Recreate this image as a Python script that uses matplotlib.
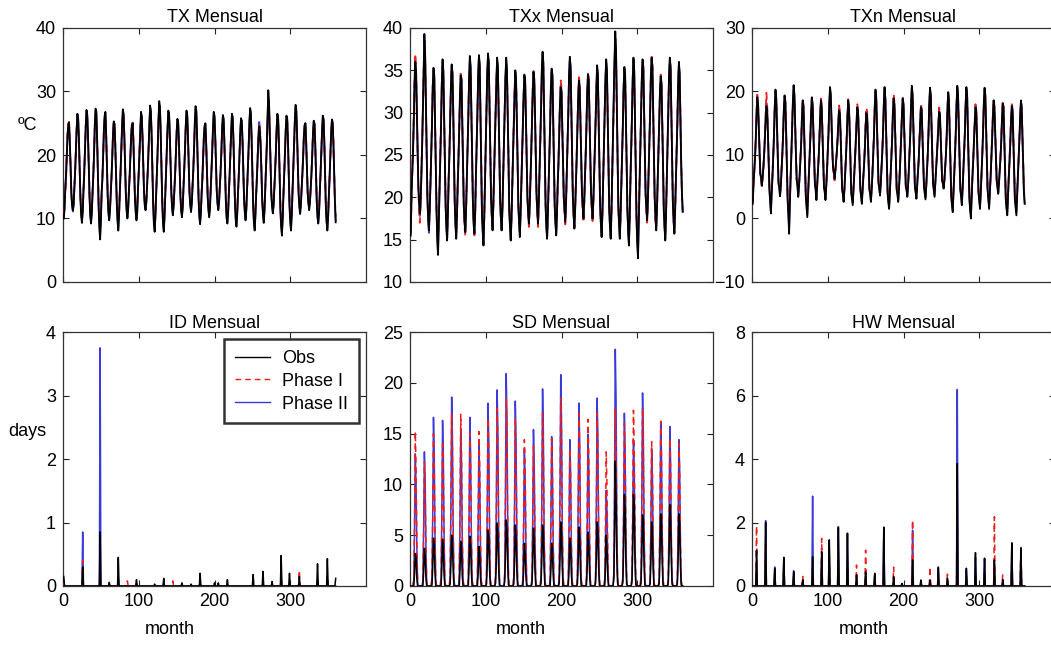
import numpy as np
import matplotlib
matplotlib.use("Agg")
import matplotlib.pyplot as plt

plt.rcParams['font.family'] = ['Liberation Sans', 'DejaVu Sans']

# ---------------- data (monthly values, 30 years x 12 months) ----------------
months = np.arange(1, 361)

TX_obs = [
 [10.0, 11.5, 14.5, 16.8, 20.0, 23.0, 24.6, 25.2, 22.0, 18.5, 14.0, 12.0],
 [11.3, 12.2, 14.8, 17.5, 20.5, 24.0, 26.5, 25.8, 22.5, 18.0, 13.2, 10.5],
 [9.3, 11.0, 14.2, 16.9, 21.0, 24.5, 27.1, 26.4, 23.0, 18.6, 13.5, 10.4],
 [9.2, 10.8, 13.9, 16.5, 20.3, 24.8, 27.3, 26.9, 22.8, 17.5, 12.0, 8.5],
 [6.7, 9.5, 14.0, 16.2, 19.8, 24.0, 26.2, 26.8, 23.2, 18.2, 13.5, 10.8],
 [9.7, 11.2, 13.8, 16.4, 19.5, 23.2, 25.3, 24.9, 21.6, 17.0, 12.4, 9.6],
 [8.1, 10.5, 14.1, 17.2, 20.8, 24.6, 27.2, 26.5, 22.9, 18.1, 13.7, 11.2],
 [10.0, 11.4, 14.3, 16.6, 19.7, 23.1, 24.6, 25.0, 21.8, 17.6, 13.1, 10.9],
 [9.7, 11.0, 14.6, 17.3, 20.6, 24.2, 26.8, 26.1, 22.7, 18.4, 14.0, 12.0],
 [11.3, 12.5, 15.0, 17.8, 21.2, 25.0, 27.8, 27.0, 23.1, 17.8, 12.2, 9.0],
 [7.9, 10.2, 13.8, 17.0, 21.0, 25.4, 28.5, 27.6, 23.5, 18.0, 12.5, 9.2],
 [7.9, 10.0, 13.6, 16.8, 20.4, 24.3, 27.0, 26.6, 23.2, 18.3, 14.1, 11.6],
 [10.5, 11.8, 14.4, 16.9, 20.0, 23.6, 25.7, 25.3, 22.1, 17.9, 13.4, 11.2],
 [10.2, 11.6, 14.7, 17.4, 20.7, 24.5, 27.0, 26.4, 22.9, 18.5, 14.0, 12.1],
 [11.0, 12.3, 15.0, 17.7, 21.0, 25.1, 27.7, 27.0, 23.0, 18.0, 12.9, 10.2],
 [9.1, 10.8, 13.9, 16.3, 19.4, 22.9, 24.6, 25.0, 21.9, 17.8, 13.4, 11.3],
 [10.2, 11.5, 14.5, 17.2, 20.6, 24.3, 26.8, 26.2, 22.8, 18.6, 14.2, 12.3],
 [11.3, 12.4, 14.9, 17.3, 20.3, 23.9, 26.3, 25.8, 22.2, 17.6, 12.6, 10.0],
 [9.2, 10.9, 14.1, 16.9, 20.3, 24.0, 26.5, 26.0, 22.4, 17.7, 12.5, 9.8],
 [8.7, 10.6, 13.9, 16.6, 19.9, 23.5, 25.8, 25.4, 22.3, 17.9, 13.2, 10.9],
 [9.7, 11.3, 14.5, 17.4, 21.0, 24.9, 27.4, 26.7, 22.6, 17.5, 12.1, 9.3],
 [8.1, 10.3, 13.8, 16.4, 19.6, 22.8, 24.5, 23.6, 21.0, 17.2, 12.8, 10.6],
 [9.3, 11.2, 14.6, 17.6, 21.5, 26.0, 30.2, 28.4, 23.4, 18.5, 13.8, 11.9],
 [10.8, 12.0, 14.7, 17.2, 20.4, 24.1, 26.5, 25.9, 22.0, 16.8, 11.2, 8.6],
 [7.3, 9.8, 13.6, 16.7, 20.2, 23.9, 26.2, 25.7, 22.1, 17.3, 12.0, 9.4],
 [8.1, 10.6, 14.3, 17.5, 21.2, 25.3, 27.9, 27.1, 23.3, 18.6, 14.0, 11.9],
 [10.7, 12.0, 14.6, 16.8, 19.6, 23.0, 24.6, 25.0, 22.1, 18.2, 14.0, 12.3],
 [11.3, 12.5, 14.8, 17.0, 19.9, 23.3, 25.4, 25.0, 21.7, 17.2, 12.5, 10.1],
 [9.2, 10.8, 14.0, 16.8, 20.2, 23.8, 26.2, 25.7, 22.0, 17.0, 11.8, 9.3],
 [8.1, 10.2, 13.7, 16.6, 20.0, 23.5, 25.6, 25.2, 21.8, 17.1, 12.4, 9.4],
]
TX_p1 = [
 [10.6, 11.8, 14.2, 16.5, 19.8, 23.2, 25.0, 24.8, 21.9, 18.2, 14.1, 12.2],
 [11.5, 12.3, 14.6, 17.2, 20.2, 23.6, 25.6, 25.3, 22.2, 18.0, 13.5, 11.2],
 [10.2, 11.5, 14.3, 16.9, 20.6, 24.1, 26.2, 25.9, 22.7, 18.4, 13.8, 11.0],
 [10.0, 11.2, 14.0, 16.6, 20.0, 24.2, 26.4, 26.1, 22.6, 17.8, 12.8, 10.0],
 [8.9, 10.4, 14.1, 16.4, 19.9, 23.6, 25.7, 26.0, 22.9, 18.3, 13.9, 11.5],
 [10.8, 11.9, 14.0, 16.5, 19.6, 23.0, 25.1, 24.6, 21.5, 17.2, 13.0, 11.0],
 [9.6, 11.0, 14.0, 17.0, 20.5, 24.0, 26.3, 25.9, 22.6, 18.1, 14.0, 12.0],
 [10.9, 12.0, 14.4, 16.7, 19.8, 23.1, 25.0, 25.4, 22.0, 17.8, 13.6, 11.8],
 [10.8, 11.8, 14.6, 17.1, 20.3, 23.8, 25.8, 25.5, 22.4, 18.3, 14.2, 12.6],
 [12.0, 13.0, 15.0, 17.5, 20.8, 24.3, 26.6, 26.2, 22.8, 17.9, 13.2, 10.6],
 [9.8, 11.2, 14.0, 16.9, 20.6, 24.6, 26.9, 26.5, 23.1, 18.1, 13.4, 10.8],
 [9.9, 11.2, 13.8, 16.7, 20.1, 23.7, 26.0, 25.8, 22.9, 18.4, 14.5, 12.4],
 [11.6, 12.4, 14.6, 16.9, 19.9, 23.3, 25.2, 24.6, 21.8, 17.9, 13.9, 12.1],
 [11.2, 12.2, 14.8, 17.3, 20.4, 23.9, 26.1, 25.7, 22.6, 18.4, 14.3, 12.6],
 [11.8, 12.8, 15.0, 17.5, 20.6, 24.3, 26.5, 26.1, 22.7, 18.0, 13.6, 11.3],
 [10.3, 11.6, 14.1, 16.4, 19.5, 22.9, 24.4, 24.2, 21.7, 17.9, 13.9, 12.2],
 [11.3, 12.2, 14.6, 17.1, 20.3, 23.8, 25.9, 25.6, 22.5, 18.5, 14.5, 12.8],
 [12.2, 13.0, 15.0, 17.2, 20.1, 23.5, 25.6, 25.2, 22.0, 17.7, 13.2, 11.1],
 [10.4, 11.6, 14.3, 16.8, 20.1, 23.6, 25.7, 25.5, 22.2, 17.8, 13.1, 10.9],
 [10.2, 11.5, 14.1, 16.6, 19.8, 23.2, 25.2, 25.1, 22.1, 17.9, 13.6, 11.8],
 [10.9, 12.0, 14.6, 17.2, 20.6, 24.2, 26.4, 26.0, 22.4, 17.6, 12.9, 10.6],
 [9.7, 11.2, 14.0, 16.5, 19.7, 23.2, 25.0, 24.7, 21.4, 17.4, 13.3, 11.5],
 [10.5, 11.8, 14.7, 17.4, 20.9, 24.9, 27.4, 26.8, 23.0, 18.3, 14.1, 12.4],
 [11.6, 12.5, 14.8, 17.1, 20.2, 23.7, 25.7, 25.3, 21.8, 17.0, 12.3, 10.2],
 [9.3, 10.8, 13.9, 16.6, 20.0, 23.5, 25.6, 25.3, 22.0, 17.4, 12.8, 10.6],
 [9.8, 11.3, 14.4, 17.2, 20.7, 24.4, 26.6, 26.2, 22.9, 18.4, 14.2, 12.5],
 [11.7, 12.6, 14.8, 16.9, 19.7, 23.0, 24.7, 25.1, 22.2, 18.3, 14.3, 12.7],
 [12.0, 12.9, 14.9, 17.0, 19.9, 23.2, 25.1, 24.8, 21.6, 17.3, 13.1, 11.2],
 [10.4, 11.5, 14.1, 16.7, 20.0, 23.4, 25.6, 25.3, 21.9, 17.2, 12.6, 10.5],
 [9.6, 11.0, 13.8, 16.5, 19.8, 23.2, 25.1, 24.9, 21.7, 17.2, 12.9, 10.3],
]
TX_p2 = [
 [10.2, 11.6, 14.6, 16.9, 20.1, 23.3, 24.9, 25.0, 22.1, 18.4, 14.2, 12.1],
 [11.1, 12.0, 14.7, 17.4, 20.6, 24.2, 26.2, 25.6, 22.6, 18.1, 13.4, 10.8],
 [9.6, 11.2, 14.3, 17.0, 20.8, 24.4, 26.8, 26.2, 22.9, 18.5, 13.7, 10.6],
 [9.5, 11.0, 14.0, 16.6, 20.2, 24.6, 27.0, 26.6, 22.7, 17.6, 12.3, 9.0],
 [7.4, 9.9, 14.1, 16.3, 19.9, 23.8, 26.0, 26.5, 23.0, 18.2, 13.6, 11.0],
 [9.9, 11.3, 13.9, 16.5, 19.6, 23.3, 25.1, 24.8, 21.7, 17.1, 12.6, 9.9],
 [8.5, 10.7, 14.2, 17.1, 20.7, 24.4, 26.9, 26.3, 22.8, 18.2, 13.8, 11.4],
 [10.2, 11.5, 14.3, 16.7, 19.8, 23.2, 24.8, 25.1, 21.9, 17.7, 13.3, 11.1],
 [10.0, 11.2, 14.6, 17.2, 20.5, 24.0, 26.5, 25.9, 22.6, 18.4, 14.1, 12.1],
 [11.4, 12.6, 15.0, 17.7, 21.0, 24.8, 27.4, 26.8, 23.0, 17.9, 12.5, 9.5],
 [8.4, 10.5, 13.9, 17.0, 20.8, 25.1, 28.0, 27.2, 23.3, 18.0, 12.8, 9.6],
 [8.3, 10.3, 13.7, 16.8, 20.3, 24.1, 26.7, 26.4, 23.1, 18.3, 14.2, 11.8],
 [10.8, 12.0, 14.5, 16.9, 20.0, 23.5, 25.5, 25.0, 22.0, 17.9, 13.6, 11.4],
 [10.5, 11.8, 14.7, 17.4, 20.6, 24.3, 26.7, 26.2, 22.8, 18.5, 14.1, 12.2],
 [11.2, 12.4, 15.0, 17.6, 20.9, 24.9, 27.3, 26.8, 22.9, 18.0, 13.1, 10.5],
 [9.5, 11.0, 14.0, 16.3, 19.4, 22.9, 24.6, 24.8, 21.8, 17.8, 13.6, 11.5],
 [10.5, 11.7, 14.5, 17.2, 20.5, 24.1, 26.5, 26.0, 22.7, 18.6, 14.3, 12.4],
 [11.5, 12.5, 14.9, 17.3, 20.2, 23.8, 26.0, 25.6, 22.1, 17.6, 12.8, 10.3],
 [9.5, 11.0, 14.2, 16.9, 20.2, 23.9, 26.2, 25.8, 22.3, 17.7, 12.7, 10.1],
 [9.1, 10.8, 14.0, 16.6, 19.9, 23.4, 25.6, 25.3, 22.2, 17.9, 13.3, 11.2],
 [10.0, 11.5, 14.5, 17.4, 20.9, 24.7, 27.1, 26.5, 22.5, 17.5, 12.3, 9.7],
 [8.6, 10.6, 13.9, 16.4, 19.7, 23.0, 25.2, 24.3, 21.1, 17.3, 12.9, 10.8],
 [9.6, 11.3, 14.6, 17.5, 21.3, 25.6, 29.0, 27.8, 23.3, 18.5, 13.9, 12.0],
 [11.0, 12.1, 14.7, 17.2, 20.3, 24.0, 26.3, 25.7, 21.9, 16.9, 11.6, 9.1],
 [7.8, 10.1, 13.7, 16.7, 20.1, 23.8, 26.0, 25.5, 22.1, 17.3, 12.3, 9.8],
 [8.5, 10.8, 14.3, 17.4, 21.0, 25.0, 27.5, 26.8, 23.2, 18.5, 14.0, 12.0],
 [11.0, 12.2, 14.6, 16.8, 19.6, 23.0, 24.7, 25.0, 22.1, 18.2, 14.1, 12.5],
 [11.8, 12.7, 14.8, 17.0, 19.9, 23.3, 25.3, 24.9, 21.7, 17.2, 12.7, 10.4],
 [9.5, 11.0, 14.0, 16.8, 20.1, 23.7, 26.0, 25.5, 22.0, 17.1, 12.1, 9.6],
 [8.5, 10.4, 13.7, 16.6, 20.0, 23.4, 25.4, 25.0, 21.8, 17.1, 12.6, 9.7],
]

TXx_obs = [
 [15.5, 20.5, 23.0, 25.5, 29.0, 33.5, 36.0, 35.0, 30.5, 26.0, 21.5, 19.5],
 [18.1, 19.5, 22.5, 26.0, 30.5, 35.5, 39.3, 37.0, 31.0, 25.5, 20.0, 17.5],
 [16.1, 18.5, 21.5, 25.0, 28.5, 33.0, 35.3, 34.5, 29.5, 24.0, 18.5, 15.0],
 [13.2, 17.0, 21.0, 24.5, 28.5, 33.5, 36.3, 35.0, 30.0, 24.5, 19.0, 16.5],
 [14.9, 18.0, 22.0, 25.0, 29.0, 33.0, 35.7, 34.8, 30.5, 25.0, 19.5, 16.8],
 [15.1, 17.8, 21.5, 24.5, 28.0, 32.0, 34.4, 33.8, 29.0, 24.0, 19.0, 17.2],
 [15.9, 18.5, 22.0, 25.5, 29.5, 34.0, 36.7, 35.5, 30.5, 25.0, 19.5, 17.0],
 [15.7, 18.0, 22.5, 26.0, 30.0, 34.5, 36.8, 35.8, 30.0, 24.0, 18.0, 16.0],
 [14.3, 17.5, 22.0, 26.0, 30.5, 34.8, 37.0, 36.0, 31.0, 25.5, 20.0, 17.8],
 [16.1, 19.0, 23.0, 26.5, 30.0, 34.0, 36.5, 35.5, 30.5, 25.0, 19.5, 17.5],
 [16.1, 18.5, 22.5, 26.0, 30.0, 34.2, 36.5, 35.0, 30.0, 24.5, 18.5, 16.5],
 [14.9, 17.5, 21.5, 25.0, 28.5, 32.5, 35.0, 34.0, 29.5, 24.5, 19.0, 17.0],
 [15.3, 18.0, 21.5, 24.5, 28.0, 32.0, 34.5, 33.8, 29.5, 24.5, 20.0, 18.2],
 [16.9, 19.0, 22.0, 25.0, 28.5, 32.5, 34.8, 34.0, 30.0, 25.0, 20.5, 18.5],
 [16.9, 19.5, 23.0, 26.5, 30.5, 35.0, 37.2, 36.0, 30.5, 24.5, 19.0, 16.5],
 [15.1, 18.0, 21.5, 25.0, 28.5, 33.0, 35.2, 34.5, 29.5, 24.0, 19.0, 17.0],
 [15.5, 18.0, 21.5, 24.0, 27.5, 31.0, 33.0, 32.5, 28.5, 24.5, 20.0, 18.5],
 [17.1, 19.5, 23.0, 26.5, 30.0, 34.5, 36.6, 35.5, 30.5, 25.0, 20.0, 17.8],
 [16.3, 18.5, 21.5, 24.5, 28.0, 31.5, 33.8, 33.0, 29.0, 25.0, 20.5, 19.0],
 [17.5, 19.5, 22.5, 25.0, 28.5, 32.5, 34.5, 33.8, 29.5, 25.0, 20.5, 19.0],
 [17.5, 19.5, 22.5, 25.5, 29.0, 33.0, 35.6, 34.5, 29.5, 24.0, 19.0, 16.8],
 [15.3, 18.0, 22.0, 25.5, 29.5, 34.0, 36.3, 35.0, 29.5, 24.0, 18.5, 16.5],
 [15.1, 18.5, 23.0, 27.0, 31.5, 36.5, 39.6, 37.5, 31.0, 25.0, 19.0, 16.8],
 [15.1, 18.0, 21.5, 25.0, 28.5, 33.0, 35.4, 34.5, 29.5, 24.0, 18.5, 16.0],
 [14.3, 17.5, 22.0, 25.5, 29.5, 34.0, 36.5, 35.0, 29.5, 23.5, 17.5, 14.5],
 [12.8, 17.0, 21.5, 25.5, 29.5, 34.0, 36.3, 35.5, 30.5, 25.5, 20.5, 18.8],
 [17.3, 19.5, 23.0, 26.5, 30.0, 34.5, 36.5, 35.5, 30.5, 25.0, 20.0, 17.8],
 [16.1, 18.5, 22.0, 25.0, 28.5, 32.5, 34.3, 33.5, 29.0, 24.0, 18.5, 16.5],
 [14.9, 18.0, 22.0, 26.0, 30.0, 34.5, 36.5, 35.5, 30.0, 24.5, 19.5, 17.2],
 [15.7, 18.5, 22.0, 25.5, 29.0, 33.5, 36.0, 34.5, 29.0, 24.0, 20.5, 18.3],
]
TXx_p1 = [
 [16.5, 20.0, 23.0, 25.8, 29.5, 34.0, 37.0, 35.5, 30.0, 25.5, 21.0, 18.5],
 [17.0, 19.0, 22.5, 26.0, 30.0, 34.5, 37.5, 36.0, 30.5, 25.0, 20.0, 17.8],
 [16.5, 18.8, 21.8, 25.0, 28.8, 33.0, 35.0, 34.2, 29.5, 24.2, 19.0, 16.0],
 [14.5, 17.5, 21.3, 24.8, 28.8, 33.2, 35.5, 34.8, 30.0, 24.8, 19.5, 17.0],
 [15.5, 18.2, 22.0, 25.2, 29.0, 33.0, 35.3, 34.5, 30.2, 25.0, 20.0, 17.3],
 [15.8, 18.2, 21.8, 24.8, 28.3, 32.2, 34.8, 34.0, 29.2, 24.2, 19.3, 16.5],
 [15.5, 18.3, 22.0, 25.5, 29.3, 33.5, 35.8, 35.0, 30.3, 25.0, 19.8, 16.8],
 [15.3, 17.8, 22.3, 25.8, 29.8, 34.0, 36.0, 35.3, 30.0, 24.3, 18.5, 16.2],
 [15.0, 17.8, 22.0, 25.8, 30.0, 34.2, 36.3, 35.5, 30.8, 25.5, 20.2, 17.8],
 [16.5, 19.0, 22.8, 26.2, 29.8, 33.8, 35.8, 35.0, 30.3, 25.0, 19.8, 17.5],
 [16.3, 18.5, 22.3, 25.8, 29.8, 33.8, 35.8, 34.8, 30.0, 24.8, 19.0, 17.0],
 [15.5, 17.8, 21.5, 25.0, 28.5, 32.5, 34.5, 33.8, 29.5, 24.5, 19.5, 17.5],
 [16.0, 18.3, 21.5, 24.5, 28.0, 32.0, 34.2, 33.5, 29.5, 24.8, 20.3, 18.0],
 [16.5, 18.8, 22.0, 25.0, 28.5, 32.5, 35.2, 34.0, 29.8, 25.0, 20.3, 18.0],
 [16.5, 19.2, 22.8, 26.2, 30.0, 34.2, 36.3, 35.3, 30.3, 24.8, 19.5, 17.0],
 [15.5, 18.0, 21.5, 24.8, 28.5, 32.8, 34.8, 34.2, 29.5, 24.2, 19.3, 17.2],
 [16.0, 18.2, 21.5, 24.2, 27.8, 31.5, 33.8, 33.0, 28.8, 24.5, 20.0, 18.3],
 [16.8, 19.2, 22.8, 26.2, 29.8, 34.0, 36.0, 35.0, 30.3, 25.0, 20.0, 18.0],
 [16.5, 18.7, 21.8, 24.8, 28.3, 31.8, 34.2, 33.5, 29.2, 25.0, 20.5, 18.5],
 [17.0, 19.2, 22.3, 25.0, 28.5, 32.3, 34.8, 33.8, 29.5, 24.8, 20.2, 18.5],
 [17.2, 19.3, 22.5, 25.5, 29.0, 33.0, 35.3, 34.3, 29.5, 24.2, 19.3, 17.0],
 [15.8, 18.2, 22.0, 25.3, 29.3, 33.5, 35.5, 34.5, 29.5, 24.2, 19.0, 16.8],
 [15.5, 18.5, 22.5, 26.3, 30.5, 35.0, 37.0, 36.0, 30.5, 24.8, 19.3, 16.8],
 [15.5, 18.0, 21.5, 25.0, 28.5, 32.8, 35.0, 34.2, 29.5, 24.2, 18.8, 16.3],
 [15.0, 17.8, 22.0, 25.3, 29.3, 33.5, 35.5, 34.5, 29.5, 24.0, 18.3, 16.0],
 [17.3, 18.5, 21.8, 25.5, 29.3, 33.5, 35.8, 35.0, 30.3, 25.5, 20.5, 18.5],
 [17.0, 19.3, 22.8, 26.3, 30.0, 34.3, 36.6, 35.5, 30.3, 25.0, 19.8, 17.3],
 [16.3, 18.5, 22.0, 25.0, 28.5, 32.3, 34.5, 33.5, 29.0, 24.2, 19.0, 16.8],
 [15.5, 18.2, 22.0, 25.8, 29.8, 34.0, 35.8, 35.0, 30.0, 24.5, 19.5, 17.3],
 [16.0, 18.5, 22.0, 25.5, 29.0, 33.3, 35.5, 34.3, 29.2, 24.2, 20.3, 18.5],
]
TXx_p2 = [
 [15.8, 20.3, 23.0, 25.6, 29.2, 33.6, 35.8, 34.8, 30.3, 25.8, 21.2, 19.2],
 [17.8, 19.3, 22.5, 26.0, 30.3, 35.0, 38.5, 36.5, 30.8, 25.3, 19.8, 17.2],
 [15.8, 18.3, 21.5, 25.0, 28.6, 33.0, 35.0, 34.3, 29.4, 24.0, 18.6, 15.3],
 [13.5, 17.2, 21.1, 24.6, 28.6, 33.4, 36.0, 34.8, 30.0, 24.6, 19.2, 16.6],
 [15.0, 18.0, 22.0, 25.0, 29.0, 33.0, 35.5, 34.7, 30.4, 25.0, 19.6, 16.9],
 [15.2, 17.9, 21.6, 24.6, 28.1, 32.1, 34.5, 33.9, 29.1, 24.1, 19.1, 17.0],
 [15.8, 18.4, 22.0, 25.5, 29.4, 33.8, 36.3, 35.3, 30.4, 25.0, 19.6, 16.9],
 [15.6, 18.0, 22.4, 25.9, 29.9, 34.3, 36.5, 35.6, 30.0, 24.1, 18.2, 16.0],
 [14.5, 17.6, 22.0, 25.9, 30.3, 34.6, 36.7, 35.8, 30.9, 25.5, 20.1, 17.8],
 [16.2, 19.0, 22.9, 26.4, 30.0, 34.0, 36.2, 35.3, 30.4, 25.0, 19.6, 17.5],
 [16.1, 18.5, 22.4, 26.0, 30.0, 34.1, 36.2, 34.9, 30.0, 24.6, 18.7, 16.6],
 [15.0, 17.6, 21.5, 25.0, 28.5, 32.5, 34.8, 33.9, 29.5, 24.5, 19.1, 17.1],
 [15.5, 18.1, 21.5, 24.5, 28.0, 32.0, 34.4, 33.7, 29.5, 24.6, 20.1, 18.1],
 [16.7, 18.9, 22.0, 25.0, 28.5, 32.5, 34.9, 34.0, 29.9, 25.0, 20.4, 18.4],
 [16.8, 19.4, 22.9, 26.4, 30.3, 34.7, 36.9, 35.8, 30.4, 24.6, 19.1, 16.7],
 [15.2, 18.0, 21.5, 25.0, 28.5, 32.9, 35.0, 34.4, 29.5, 24.1, 19.1, 17.1],
 [15.6, 18.1, 21.5, 24.1, 27.6, 31.2, 33.3, 32.7, 28.6, 24.5, 20.0, 18.4],
 [17.0, 19.4, 22.9, 26.4, 30.0, 34.3, 36.3, 35.3, 30.4, 25.0, 20.0, 17.9],
 [16.4, 18.6, 21.6, 24.6, 28.1, 31.6, 33.9, 33.1, 29.1, 25.0, 20.5, 18.8],
 [17.4, 19.4, 22.4, 25.0, 28.5, 32.4, 34.6, 33.8, 29.5, 24.9, 20.4, 18.9],
 [17.4, 19.4, 22.5, 25.5, 29.0, 33.0, 35.5, 34.4, 29.5, 24.1, 19.1, 16.9],
 [15.4, 18.1, 22.0, 25.4, 29.4, 33.8, 36.0, 34.8, 29.5, 24.1, 18.7, 16.6],
 [15.2, 18.5, 22.8, 26.7, 31.1, 35.9, 38.8, 37.0, 30.8, 24.9, 19.1, 16.8],
 [15.2, 18.0, 21.5, 25.0, 28.5, 32.9, 35.2, 34.4, 29.5, 24.1, 18.6, 16.1],
 [14.5, 17.6, 22.0, 25.4, 29.4, 33.8, 36.2, 34.8, 29.5, 23.7, 17.7, 14.9],
 [13.3, 17.2, 21.6, 25.5, 29.4, 33.8, 36.0, 35.3, 30.4, 25.5, 20.5, 18.7],
 [17.2, 19.4, 22.9, 26.4, 30.0, 34.4, 36.3, 35.5, 30.4, 25.0, 20.0, 17.7],
 [16.2, 18.5, 22.0, 25.0, 28.5, 32.4, 34.3, 33.5, 29.0, 24.1, 18.7, 16.6],
 [15.1, 18.1, 22.0, 25.9, 29.9, 34.3, 36.2, 35.3, 30.0, 24.5, 19.5, 17.2],
 [15.8, 18.5, 22.0, 25.5, 29.0, 33.4, 35.8, 34.5, 29.1, 24.1, 20.4, 18.3],
]

TXn_obs = [
 [2.3, 5.5, 7.5, 9.5, 12.5, 16.5, 19.1, 18.0, 14.0, 10.5, 7.0, 6.5],
 [5.2, 6.5, 8.0, 10.0, 12.5, 15.5, 17.7, 17.0, 13.5, 9.0, 4.5, 2.5],
 [0.8, 4.0, 6.5, 9.5, 13.0, 17.5, 20.3, 19.0, 14.5, 9.5, 5.5, 4.8],
 [3.5, 5.0, 7.5, 10.0, 13.0, 17.0, 19.4, 18.5, 14.0, 8.5, 3.0, 0.5],
 [-2.4, 2.5, 6.5, 10.0, 14.0, 18.5, 21.0, 19.5, 14.5, 10.0, 6.0, 5.2],
 [3.4, 5.0, 7.0, 9.5, 12.0, 16.0, 18.6, 17.5, 13.0, 8.0, 3.5, 1.8],
 [0.2, 3.5, 6.5, 9.5, 12.5, 16.5, 19.1, 18.0, 14.0, 9.5, 5.5, 4.5],
 [2.9, 5.0, 7.0, 9.5, 12.5, 16.0, 18.6, 17.5, 13.5, 9.0, 5.0, 4.2],
 [2.9, 5.0, 7.5, 10.5, 13.5, 18.0, 20.7, 19.5, 15.0, 11.0, 8.0, 7.5],
 [6.3, 7.5, 9.0, 10.5, 12.5, 15.0, 17.0, 16.5, 13.0, 8.5, 4.5, 3.8],
 [2.6, 4.5, 7.0, 9.5, 12.5, 16.0, 18.6, 17.5, 13.5, 8.5, 4.0, 3.0],
 [2.1, 4.5, 7.0, 9.0, 12.0, 15.0, 17.5, 16.8, 13.0, 8.5, 4.5, 3.5],
 [2.3, 4.5, 6.5, 8.5, 11.0, 14.5, 16.6, 16.0, 12.5, 8.5, 4.5, 3.8],
 [2.6, 4.5, 7.0, 10.0, 13.0, 17.5, 20.3, 19.0, 14.5, 10.0, 5.5, 4.8],
 [3.6, 5.5, 8.0, 10.5, 13.5, 18.0, 20.7, 19.0, 14.0, 9.0, 4.0, 2.5],
 [1.5, 4.0, 7.0, 9.5, 12.5, 16.5, 18.9, 18.0, 13.5, 9.0, 4.5, 3.8],
 [2.6, 4.5, 7.0, 10.0, 13.0, 16.5, 18.9, 18.0, 14.0, 9.5, 5.0, 4.5],
 [3.4, 5.0, 7.5, 10.5, 13.5, 18.0, 20.9, 19.5, 14.5, 9.5, 5.0, 4.2],
 [3.1, 5.0, 7.0, 9.0, 12.0, 15.0, 17.5, 17.0, 13.0, 9.0, 5.0, 4.0],
 [3.0, 5.0, 7.5, 10.0, 13.5, 18.0, 20.6, 19.5, 14.5, 10.0, 5.5, 4.5],
 [3.4, 5.5, 7.5, 9.5, 12.0, 14.5, 16.8, 16.5, 13.0, 9.5, 6.0, 5.5],
 [4.7, 6.0, 8.0, 10.0, 13.0, 17.0, 19.9, 18.5, 13.5, 8.5, 3.5, 2.0],
 [1.0, 4.0, 7.0, 10.0, 13.5, 18.0, 20.9, 19.5, 14.5, 9.5, 4.5, 3.5],
 [2.1, 4.5, 7.5, 10.5, 13.5, 18.0, 20.7, 19.5, 14.0, 8.5, 3.0, 1.2],
 [0.0, 3.5, 6.5, 9.0, 12.0, 15.0, 17.5, 17.0, 13.0, 8.5, 4.0, 2.8],
 [1.5, 4.0, 7.0, 10.0, 13.5, 18.0, 20.6, 19.5, 14.5, 9.5, 4.5, 3.0],
 [1.5, 4.0, 6.5, 9.5, 12.5, 16.0, 18.6, 17.5, 13.5, 9.5, 6.0, 5.0],
 [3.9, 5.5, 7.5, 9.5, 12.0, 15.5, 18.1, 17.5, 13.0, 8.0, 3.0, 1.5],
 [0.5, 3.5, 6.5, 9.0, 12.0, 15.5, 17.7, 17.0, 12.5, 7.5, 3.0, 1.8],
 [0.5, 3.5, 6.5, 9.5, 12.5, 16.0, 18.6, 17.5, 13.0, 8.0, 4.0, 2.3],
]
TXn_p1 = [
 [3.0, 5.5, 7.5, 9.8, 12.8, 16.8, 19.5, 18.3, 14.2, 10.3, 6.8, 6.0],
 [5.0, 6.3, 8.0, 10.2, 13.0, 16.5, 19.8, 18.0, 13.8, 9.2, 5.0, 3.5],
 [2.0, 4.5, 6.8, 9.8, 13.0, 17.3, 20.0, 18.8, 14.3, 9.8, 6.0, 5.0],
 [3.8, 5.3, 7.5, 10.0, 13.0, 16.8, 19.0, 18.3, 14.0, 9.0, 4.0, 2.0],
 [0.5, 3.5, 6.8, 10.0, 13.8, 18.0, 20.2, 19.0, 14.5, 10.0, 6.2, 5.5],
 [3.8, 5.2, 7.2, 9.8, 12.5, 16.3, 18.8, 17.8, 13.3, 8.5, 4.3, 3.0],
 [1.5, 4.0, 6.8, 9.8, 12.8, 16.5, 19.0, 18.0, 14.0, 9.8, 6.0, 5.0],
 [3.3, 5.2, 7.2, 9.8, 12.8, 16.3, 18.9, 17.8, 13.8, 9.3, 5.5, 4.5],
 [3.5, 5.3, 7.5, 10.3, 13.3, 17.5, 20.0, 19.0, 14.8, 10.8, 7.5, 7.0],
 [6.0, 7.2, 8.8, 10.5, 12.8, 15.5, 17.8, 17.0, 13.3, 9.0, 5.0, 4.0],
 [3.0, 4.8, 7.2, 9.8, 12.8, 16.2, 18.8, 17.8, 13.8, 9.0, 4.8, 3.8],
 [3.0, 5.0, 7.2, 9.3, 12.3, 15.5, 18.0, 17.2, 13.3, 9.0, 5.0, 4.0],
 [3.0, 4.8, 6.8, 8.8, 11.5, 15.0, 17.5, 16.8, 13.0, 9.0, 5.0, 4.2],
 [3.2, 5.0, 7.3, 10.0, 13.0, 17.0, 19.8, 18.8, 14.5, 10.0, 6.0, 5.0],
 [4.0, 5.8, 8.0, 10.5, 13.3, 17.5, 20.0, 18.8, 14.0, 9.3, 4.8, 3.5],
 [2.5, 4.5, 7.2, 9.8, 12.8, 16.8, 19.7, 18.3, 13.8, 9.3, 5.0, 4.2],
 [3.0, 4.8, 7.2, 10.0, 13.0, 16.5, 19.0, 18.0, 14.0, 9.8, 5.5, 4.8],
 [3.8, 5.3, 7.8, 10.5, 13.5, 17.5, 20.2, 19.0, 14.3, 9.8, 5.5, 4.5],
 [3.5, 5.2, 7.3, 9.3, 12.3, 15.5, 18.0, 17.3, 13.3, 9.3, 5.5, 4.5],
 [3.5, 5.3, 7.7, 10.0, 13.3, 17.5, 20.0, 19.0, 14.3, 10.0, 6.0, 5.0],
 [4.0, 5.8, 7.8, 9.8, 12.3, 15.0, 17.5, 17.0, 13.3, 9.8, 6.3, 5.5],
 [5.0, 6.2, 8.0, 10.0, 13.0, 17.0, 19.8, 18.5, 13.8, 9.0, 4.3, 3.0],
 [2.0, 4.5, 7.2, 10.0, 13.3, 17.5, 20.3, 19.0, 14.3, 9.8, 5.0, 4.0],
 [2.8, 4.8, 7.5, 10.3, 13.3, 17.5, 20.0, 19.0, 14.0, 9.0, 4.0, 2.5],
 [1.5, 4.0, 6.8, 9.3, 12.3, 15.5, 18.0, 17.3, 13.3, 9.0, 4.8, 3.5],
 [2.5, 4.5, 7.2, 10.0, 13.3, 17.5, 20.0, 19.0, 14.3, 9.8, 5.0, 3.8],
 [2.5, 4.5, 6.8, 9.8, 12.8, 16.3, 18.8, 17.8, 13.8, 9.8, 6.2, 5.2],
 [4.0, 5.5, 7.5, 9.8, 12.3, 15.8, 18.5, 17.8, 13.3, 8.5, 4.0, 2.5],
 [1.8, 4.0, 6.8, 9.3, 12.3, 15.8, 18.0, 17.3, 13.0, 8.3, 4.0, 2.8],
 [1.5, 4.0, 6.8, 9.5, 12.5, 16.0, 18.5, 17.5, 13.3, 8.5, 4.5, 3.0],
]
TXn_p2 = [
 [2.6, 5.5, 7.5, 9.6, 12.6, 16.6, 19.0, 18.0, 14.0, 10.4, 7.0, 6.3],
 [5.1, 6.4, 8.0, 10.1, 12.7, 15.8, 18.2, 17.3, 13.6, 9.1, 4.7, 2.8],
 [1.2, 4.2, 6.6, 9.6, 13.0, 17.4, 20.0, 18.9, 14.4, 9.6, 5.7, 4.9],
 [3.6, 5.1, 7.5, 10.0, 13.0, 16.9, 19.2, 18.4, 14.0, 8.7, 3.4, 1.0],
 [-1.5, 2.8, 6.6, 10.0, 13.9, 18.3, 20.9, 19.3, 14.5, 10.0, 6.1, 5.3],
 [3.5, 5.1, 7.1, 9.6, 12.2, 16.1, 18.6, 17.6, 13.1, 8.2, 3.8, 2.2],
 [0.6, 3.7, 6.6, 9.6, 12.6, 16.5, 19.0, 18.0, 14.0, 9.6, 5.7, 4.7],
 [3.0, 5.1, 7.1, 9.6, 12.6, 16.1, 18.6, 17.6, 13.6, 9.1, 5.2, 4.3],
 [3.1, 5.1, 7.5, 10.4, 13.4, 17.8, 20.5, 19.3, 14.9, 10.9, 7.8, 7.3],
 [6.1, 7.4, 8.9, 10.5, 12.6, 15.2, 17.3, 16.7, 13.1, 8.7, 4.7, 3.9],
 [2.8, 4.6, 7.1, 9.6, 12.6, 16.1, 18.6, 17.6, 13.6, 8.7, 4.3, 3.3],
 [2.5, 4.7, 7.1, 9.1, 12.1, 15.2, 17.6, 16.9, 13.1, 8.7, 4.7, 3.7],
 [2.6, 4.6, 6.6, 8.6, 11.2, 14.7, 16.9, 16.3, 12.7, 8.7, 4.7, 4.0],
 [2.8, 4.7, 7.1, 10.0, 13.0, 17.3, 20.0, 18.9, 14.5, 10.0, 5.7, 4.9],
 [3.7, 5.6, 8.0, 10.5, 13.4, 17.8, 20.4, 18.9, 14.0, 9.1, 4.3, 2.8],
 [1.9, 4.2, 7.1, 9.6, 12.6, 16.6, 18.9, 18.0, 13.6, 9.1, 4.7, 4.0],
 [2.8, 4.6, 7.1, 10.0, 13.0, 16.5, 18.9, 18.0, 14.0, 9.6, 5.2, 4.6],
 [3.5, 5.1, 7.6, 10.5, 13.5, 17.8, 20.6, 19.3, 14.4, 9.6, 5.2, 4.3],
 [3.2, 5.1, 7.1, 9.1, 12.1, 15.2, 17.7, 17.1, 13.1, 9.1, 5.2, 4.2],
 [3.2, 5.1, 7.6, 10.0, 13.4, 17.8, 20.3, 19.3, 14.4, 10.0, 5.7, 4.7],
 [3.6, 5.6, 7.6, 9.6, 12.1, 14.7, 17.0, 16.7, 13.1, 9.6, 6.1, 5.5],
 [4.8, 6.1, 8.0, 10.0, 13.0, 17.0, 19.8, 18.5, 13.6, 8.7, 3.8, 2.4],
 [1.4, 4.2, 7.1, 10.0, 13.4, 17.8, 20.6, 19.3, 14.4, 9.6, 4.7, 3.7],
 [2.4, 4.6, 7.5, 10.4, 13.4, 17.8, 20.4, 19.3, 14.0, 8.7, 3.4, 1.7],
 [0.6, 3.7, 6.6, 9.1, 12.1, 15.2, 17.7, 17.1, 13.1, 8.7, 4.3, 3.1],
 [1.9, 4.2, 7.1, 10.0, 13.4, 17.8, 20.3, 19.3, 14.4, 9.6, 4.7, 3.3],
 [1.9, 4.2, 6.6, 9.6, 12.6, 16.1, 18.6, 17.6, 13.6, 9.6, 6.1, 5.1],
 [3.9, 5.5, 7.5, 9.6, 12.1, 15.6, 18.2, 17.6, 13.1, 8.2, 3.4, 1.9],
 [1.0, 3.7, 6.6, 9.1, 12.1, 15.6, 17.8, 17.1, 12.7, 7.8, 3.4, 2.2],
 [0.9, 3.7, 6.6, 9.6, 12.6, 16.0, 18.5, 17.5, 13.1, 8.2, 4.2, 2.4],
]

# SD: summer days, non-zero only in May-Oct (other months 0)
SD_MONTHS = [5, 6, 7, 8, 9, 10]
SD_obs = [
 [0.0, 1.2, 3.2, 2.8, 0.8, 0.0], [0.0, 1.4, 3.7, 3.0, 0.9, 0.0],
 [0.1, 1.8, 4.7, 3.9, 1.3, 0.0], [0.0, 1.7, 4.6, 3.5, 1.1, 0.0],
 [0.2, 2.1, 5.0, 4.2, 1.5, 0.0], [0.0, 1.6, 4.4, 3.6, 1.0, 0.0],
 [0.1, 2.0, 4.9, 4.0, 1.4, 0.0], [0.0, 1.3, 3.9, 3.1, 0.9, 0.0],
 [0.2, 2.3, 5.5, 4.6, 1.7, 0.1], [0.3, 2.6, 6.2, 5.0, 1.9, 0.1],
 [0.4, 2.9, 6.5, 5.6, 2.1, 0.1], [0.2, 2.4, 6.0, 4.8, 1.6, 0.0],
 [0.0, 1.5, 4.2, 3.3, 1.0, 0.0], [0.2, 2.2, 5.7, 4.5, 1.6, 0.0],
 [0.3, 2.5, 6.0, 5.2, 1.8, 0.1], [0.0, 1.6, 4.2, 3.4, 1.1, 0.0],
 [0.3, 2.6, 6.3, 5.1, 1.8, 0.1], [0.1, 1.8, 4.7, 3.8, 1.2, 0.0],
 [0.2, 2.3, 5.8, 4.7, 1.6, 0.0], [0.1, 2.0, 5.3, 4.2, 1.4, 0.0],
 [0.3, 2.7, 6.3, 5.3, 1.9, 0.1], [0.0, 1.7, 5.0, 3.6, 1.1, 0.0],
 [0.6, 4.5, 12.3, 8.5, 3.0, 0.3], [0.4, 3.6, 9.0, 7.5, 2.5, 0.2],
 [0.4, 3.5, 9.0, 7.8, 2.6, 0.2], [0.3, 2.9, 7.0, 6.2, 2.1, 0.1],
 [0.2, 2.4, 6.3, 5.0, 1.7, 0.0], [0.3, 3.0, 7.1, 6.0, 2.2, 0.1],
 [0.4, 3.3, 8.0, 6.6, 2.4, 0.2], [0.3, 2.8, 7.1, 6.0, 2.0, 0.1],
]
SD_p1 = [
 [0.8, 6.5, 15.2, 11.5, 4.5, 0.6], [0.5, 5.0, 12.2, 9.5, 3.5, 0.4],
 [0.8, 6.4, 15.0, 12.0, 4.4, 0.6], [0.7, 6.0, 14.0, 11.0, 4.0, 0.5],
 [1.0, 7.3, 17.0, 13.5, 5.2, 0.8], [0.9, 7.0, 16.9, 13.0, 5.0, 0.7],
 [0.8, 6.3, 15.0, 12.0, 4.5, 0.6], [0.8, 6.5, 15.2, 11.8, 4.5, 0.6],
 [0.9, 7.0, 16.5, 13.2, 5.0, 0.7], [1.0, 7.5, 17.5, 14.0, 5.4, 0.8],
 [1.1, 8.0, 18.5, 15.0, 5.8, 0.9], [0.9, 7.0, 16.5, 13.0, 5.0, 0.7],
 [0.7, 6.1, 14.4, 11.5, 4.3, 0.5], [0.7, 5.8, 13.8, 11.0, 4.1, 0.5],
 [1.0, 7.3, 17.0, 13.8, 5.2, 0.8], [0.7, 6.2, 14.5, 11.3, 4.3, 0.5],
 [1.1, 8.0, 18.5, 14.8, 5.7, 0.9], [0.6, 5.7, 13.5, 10.8, 4.0, 0.5],
 [1.0, 7.2, 17.0, 13.5, 5.2, 0.7], [0.9, 7.0, 16.4, 12.8, 4.9, 0.7],
 [1.0, 7.2, 17.0, 13.6, 5.2, 0.7], [0.6, 5.5, 13.2, 10.0, 3.8, 0.4],
 [1.0, 7.5, 17.5, 14.2, 5.4, 0.8], [0.9, 6.8, 16.0, 12.8, 4.8, 0.7],
 [1.0, 7.4, 17.3, 13.8, 5.3, 0.8], [1.0, 7.5, 17.5, 14.0, 5.4, 0.8],
 [0.7, 6.0, 14.2, 11.2, 4.2, 0.5], [0.9, 6.9, 16.2, 12.8, 4.9, 0.7],
 [0.8, 6.2, 14.5, 11.5, 4.3, 0.6], [0.7, 6.0, 14.0, 11.0, 4.1, 0.5],
]
SD_p2 = [
 [0.6, 5.6, 13.0, 10.0, 3.8, 0.4], [0.6, 5.7, 13.2, 10.5, 3.9, 0.4],
 [0.8, 7.1, 16.6, 13.0, 5.0, 0.6], [0.8, 7.0, 16.3, 12.8, 4.9, 0.6],
 [1.0, 8.0, 18.6, 14.8, 5.6, 0.8], [0.8, 6.6, 15.5, 12.2, 4.6, 0.6],
 [0.8, 7.1, 16.6, 13.2, 5.0, 0.6], [0.7, 6.0, 14.0, 11.0, 4.2, 0.5],
 [0.9, 7.7, 18.0, 14.2, 5.4, 0.7], [1.0, 8.3, 19.3, 15.4, 5.8, 0.8],
 [1.1, 9.0, 20.9, 16.7, 6.3, 0.9], [0.9, 7.8, 18.2, 14.5, 5.5, 0.7],
 [0.6, 5.8, 13.5, 10.6, 4.0, 0.4], [0.8, 6.6, 15.4, 12.0, 4.6, 0.6],
 [1.0, 8.3, 19.4, 15.5, 5.8, 0.8], [0.7, 6.3, 14.7, 11.6, 4.4, 0.5],
 [1.1, 8.9, 20.8, 16.6, 6.2, 0.9], [0.7, 6.2, 14.4, 11.4, 4.3, 0.5],
 [0.9, 7.7, 18.0, 14.3, 5.4, 0.7], [0.7, 6.4, 14.9, 11.8, 4.5, 0.5],
 [0.9, 7.9, 18.5, 14.8, 5.6, 0.7], [0.4, 4.0, 9.4, 7.5, 2.8, 0.3],
 [1.2, 10.0, 23.3, 18.5, 7.0, 1.0], [0.9, 7.3, 17.0, 13.5, 5.1, 0.7],
 [0.7, 6.2, 14.4, 11.5, 4.3, 0.5], [1.0, 8.1, 19.0, 15.0, 5.7, 0.8],
 [0.6, 5.8, 13.5, 10.8, 4.1, 0.4], [0.8, 6.9, 16.2, 12.9, 4.9, 0.6],
 [0.8, 6.7, 15.7, 12.4, 4.7, 0.6], [0.7, 6.2, 14.4, 11.5, 4.3, 0.5],
]

# ID and HW: sparse (month -> value), all other months are 0
ID_obs = {1: 0.15, 26: 0.30, 49: 0.85, 61: 0.05, 73: 0.45, 97: 0.10, 121: 0.03,
          133: 0.12, 157: 0.05, 169: 0.03, 181: 0.20, 200: 0.05, 205: 0.05,
          217: 0.10, 251: 0.18, 264: 0.23, 276: 0.07, 288: 0.48, 299: 0.20,
          312: 0.15, 336: 0.35, 349: 0.43, 360: 0.12}
ID_p1 = {1: 0.05, 26: 0.40, 49: 0.40, 61: 0.03, 73: 0.10, 85: 0.08, 145: 0.08,
         181: 0.05, 264: 0.05, 288: 0.10, 312: 0.25, 349: 0.15}
ID_p2 = {1: 0.08, 26: 0.85, 49: 3.75, 61: 0.06, 73: 0.12, 97: 0.04, 133: 0.04,
         181: 0.06, 288: 0.12, 336: 0.08, 349: 0.10}

HW_obs = {6: 1.13, 18: 2.00, 30: 0.55, 42: 0.90, 55: 0.45, 67: 0.20, 80: 0.92,
          92: 1.08, 102: 1.45, 114: 1.85, 126: 1.66, 138: 0.35, 150: 0.45,
          162: 0.40, 174: 1.85, 187: 0.30, 198: 0.08, 212: 0.82, 223: 0.19,
          235: 0.19, 246: 0.59, 258: 0.24, 271: 3.86, 283: 0.56, 295: 1.05,
          307: 0.87, 320: 0.82, 331: 0.20, 343: 1.36, 355: 1.20}
HW_p1 = {6: 1.89, 18: 1.30, 30: 0.30, 42: 0.80, 55: 0.30, 67: 0.30, 80: 0.60,
         92: 1.50, 102: 0.90, 114: 0.80, 126: 0.60, 138: 0.66, 150: 1.13,
         162: 0.30, 174: 0.80, 187: 0.59, 198: 0.05, 212: 2.08, 223: 0.10,
         235: 0.61, 246: 0.40, 258: 0.37, 271: 1.20, 283: 0.30, 295: 0.31,
         307: 0.50, 320: 2.18, 331: 0.35, 343: 0.70, 355: 1.26}
HW_p2 = {6: 0.70, 18: 2.06, 30: 0.60, 42: 0.90, 55: 0.48, 67: 0.15, 80: 2.83,
         92: 0.90, 102: 1.45, 114: 1.87, 126: 1.66, 138: 0.30, 150: 0.40,
         162: 0.35, 174: 1.85, 187: 0.20, 198: 0.06, 212: 1.76, 223: 0.15,
         235: 0.15, 246: 0.59, 258: 0.20, 271: 6.19, 283: 0.50, 295: 0.90,
         307: 0.87, 320: 0.70, 331: 0.15, 343: 1.30, 355: 1.10}

TITLES = ["TX Mensual", "TXx Mensual", "TXn Mensual",
          "ID Mensual", "SD Mensual", "HW Mensual"]
YLIMS = [(0, 40), (10, 40), (-10, 30), (0, 4), (0, 25), (0, 8)]
YTICKS = [[0, 10, 20, 30, 40], [10, 15, 20, 25, 30, 35, 40], [-10, 0, 10, 20, 30],
          [0, 1, 2, 3, 4], [0, 5, 10, 15, 20, 25], [0, 2, 4, 6, 8]]
XTICKS = [0, 100, 200, 300]
LEGEND_LABELS = ["Obs", "Phase I", "Phase II"]


# ---------------- helpers ----------------
def flat(rows):
    return np.array(rows, dtype=float).ravel()


def summer(rows):
    a = np.zeros((len(rows), 12))
    for i, r in enumerate(rows):
        for m, v in zip(SD_MONTHS, r):
            a[i, m - 1] = v
    return a.ravel()


def sparse(d):
    a = np.zeros(360)
    for m, v in d.items():
        a[m - 1] = v
    return a


series = [
    (flat(TX_obs), flat(TX_p1), flat(TX_p2)),
    (flat(TXx_obs), flat(TXx_p1), flat(TXx_p2)),
    (flat(TXn_obs), flat(TXn_p1), flat(TXn_p2)),
    (sparse(ID_obs), sparse(ID_p1), sparse(ID_p2)),
    (summer(SD_obs), summer(SD_p1), summer(SD_p2)),
    (sparse(HW_obs), sparse(HW_p1), sparse(HW_p2)),
]

W, H = 1051, 646
fig = plt.figure(figsize=(W / 100, H / 100), dpi=100)
col_left = [63, 410, 752]
row_top = [28, 332]
aw, ah = 303, 254

BLACK = "#000000"
RED = "#ee1c1c"
BLUE = "#3a3ad8"
FS = 13

for k in range(6):
    r, c = divmod(k, 3)
    l, t = col_left[c], row_top[r]
    ax = fig.add_axes([l / W, 1 - (t + ah) / H, aw / W, ah / H])
    obs, p1, p2 = series[k]
    lw = 1.3 if r == 0 else 1.1
    h2, = ax.plot(months, p2, color=BLUE, lw=lw, zorder=2)
    h1, = ax.plot(months, p1, color=RED, lw=lw, ls=(0, (4, 3)), zorder=3)
    h0, = ax.plot(months, obs, color=BLACK, lw=lw, zorder=4)
    ax.set_xlim(0, 400)
    ax.set_ylim(*YLIMS[k])
    ax.set_xticks(XTICKS)
    ax.set_yticks(YTICKS[k])
    ax.tick_params(direction="in", length=4, width=0.8, top=True, right=True,
                   labelsize=FS, pad=5, colors="#222222", labelcolor="black")
    for s in ax.spines.values():
        s.set_linewidth(0.9)
        s.set_color("#333333")
    if r == 0:
        ax.tick_params(labelbottom=False)
    ax.set_title(TITLES[k], fontsize=FS, pad=4 if r == 0 else 3)
    if k == 3:
        leg = ax.legend([h0, h1, h2], LEGEND_LABELS, loc="upper right",
                        bbox_to_anchor=(0.977, 0.972), borderaxespad=0,
                        fontsize=FS, frameon=True, fancybox=False,
                        handlelength=1.9, handletextpad=0.7, labelspacing=0.32,
                        borderpad=0.6)
        leg.get_frame().set_edgecolor("black")
        leg.get_frame().set_linewidth(1.8)
        for ln in leg.get_lines():
            ln.set_linewidth(1.0)

fig.text(28 / W, 1 - 125 / H, "ºC", ha="center", va="center", fontsize=FS)
fig.text(27 / W, 1 - 431 / H, "days", ha="center", va="center", fontsize=FS)
for xc in (170, 521, 864):
    fig.text(xc / W, 1 - 630 / H, "month", ha="center", va="center", fontsize=FS)

fig.savefig("out.png", dpi=100)
